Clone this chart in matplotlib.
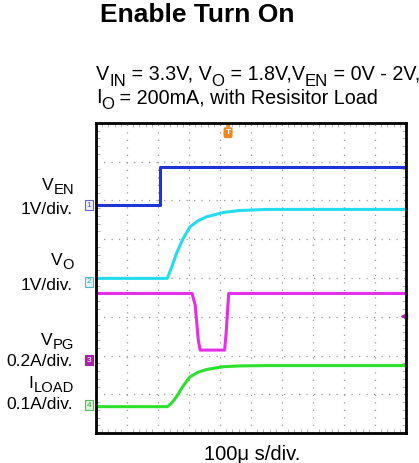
import numpy as np
import matplotlib
matplotlib.use("Agg")
import matplotlib.pyplot as plt
from matplotlib.transforms import IdentityTransform

plt.rcParams['font.family'] = ['Liberation Sans', 'DejaVu Sans']

# traces, in divisions (x: 0-10, y: 0-8)
t_en = [0, 2.06, 2.06, 10]
v_en = [5.88, 5.88, 6.87, 6.87]

t_vo = [0, 2.3, 2.45, 2.6, 2.8, 3.03, 3.3, 3.57, 4.1, 4.6, 5.5, 10]
v_vo = [3.99, 3.99, 4.3, 4.64, 5.0, 5.32, 5.48, 5.58, 5.69, 5.74, 5.77, 5.77]

t_pg = [0, 3.1, 3.2, 3.3, 3.36, 4.15, 4.2, 4.28, 10]
v_pg = [3.6, 3.6, 3.3, 2.4, 2.14, 2.14, 2.6, 3.6, 3.6]

t_il = [0, 2.3, 2.45, 2.6, 2.8, 3.03, 3.3, 3.57, 4.1, 4.6, 5.5, 10]
i_il = [0.68, 0.68, 0.78, 0.94, 1.2, 1.45, 1.57, 1.64, 1.71, 1.73, 1.74, 1.74]

# channel labels: (name, subscript, scale), baselines in image px
ch_names = [('V', 'EN', '1V/div.'), ('V', 'O', '1V/div.'),
            ('V', 'PG', '0.2A/div.'), ('I', 'LOAD', '0.1A/div.')]
ch_base = [(190, 214), (265, 290), (345, 366), (388, 409)]
ch_marks = [5.88, 3.9, 1.88, 0.72]
colors = ['#1f33d6', '#25dcee', '#e62ee6', '#2ee02e']
box_colors = [('#eeeeff', '#6666cc', '#5555aa'),
              ('#ddf6f8', '#55bbcc', '#449999'),
              ('#aa22aa', '#aa22aa', 'white'),
              ('#ddf5dd', '#55bb55', '#449944')]

W, H = 419, 463
fig = plt.figure(figsize=(W / 100, H / 100), dpi=100)
ax = fig.add_axes([96 / W, 30 / H, 310 / W, 310 / H])
rend = fig.canvas.get_renderer()


def rich(x, ytop, parts, size, ha='left', drop=0.3):
    # parts: list of (text, is_subscript); x, ytop in image pixels
    arts = []
    cx = x
    y = H - ytop
    for s, sub in parts:
        fs = size * 0.85 if sub else size
        yy = y - size * drop * 100 / 72 if sub else y
        t = fig.text(cx, yy, s, fontsize=fs, transform=IdentityTransform(),
                     ha='left', va='baseline')
        cx = t.get_window_extent(rend).x1
        arts.append(t)
    if ha == 'right':
        w = cx - x
        for t in arts:
            px, py = t.get_position()
            t.set_position((px - w, py))
    return arts


ax.set_xlim(0, 10)
ax.set_ylim(0, 8)
ax.set_xticks(np.arange(1, 10))
ax.set_yticks(np.arange(1, 8))
ax.set_xticks(np.arange(0, 10.01, 0.2), minor=True)
ax.set_yticks(np.arange(0, 8.01, 0.2), minor=True)
ax.tick_params(which='both', direction='in', labelbottom=False, labelleft=False,
               top=True, right=True, color='#aaaaaa')
ax.tick_params(which='major', length=0)
ax.tick_params(which='minor', length=3, width=0.6)
ax.grid(True, which='major', linestyle=(0, (1, 5)), color='#999999', linewidth=0.9)
for s in ax.spines.values():
    s.set_linewidth(2)
    s.set_color('black')

for t, v, c in zip([t_en, t_vo, t_pg, t_il], [v_en, v_vo, v_pg, i_il], colors):
    ax.plot(t, v, color=c, linewidth=2.2, solid_joinstyle='round')

for i, (name, sub, scale) in enumerate(ch_names):
    fc, ec, tc = box_colors[i]
    ax.text(-0.23, ch_marks[i], str(i + 1), ha='center', va='center',
            fontsize=6, color=tc, clip_on=False,
            bbox=dict(boxstyle='square,pad=0.2', fc=fc, ec=ec, lw=0.8))
    rich(74, ch_base[i][0], [(name, False), (sub, True)], 12.5, ha='right', drop=0.25)
    rich(73, ch_base[i][1], [(scale, False)], 12.5, ha='right')

# trigger marker and right-side level marker
ax.text(4.26, 7.75, 'T', ha='center', va='center', fontsize=6, color='white',
        fontweight='bold', clip_on=False,
        bbox=dict(boxstyle='round,pad=0.15', fc='#ee8822', ec='#ee8822'))
ax.plot([4.26], [7.95], marker='v', color='#ee8822', markersize=3, clip_on=False)
ax.plot([9.95], [3.02], marker='<', color='#aa22aa', markersize=4, clip_on=False)

fig.text(197.5, H - 22, 'Enable Turn On', ha='center', va='baseline',
         fontsize=19, fontweight='bold', transform=IdentityTransform())
rich(96, 80, [('V', False), ('IN', True), (' = 3.3V, V', False), ('O', True),
              (' = 1.8V,V', False), ('EN', True), (' = 0V - 2V,', False)], 14.2)
rich(96, 103, [('I', False), ('O', True), (' = 200mA, with Resisitor Load', False)], 14.2)
fig.text(252.5, H - 460, '100\u03bc s/div.', ha='center', va='baseline',
         fontsize=14.5, transform=IdentityTransform())

fig.savefig('out.png', dpi=100)
